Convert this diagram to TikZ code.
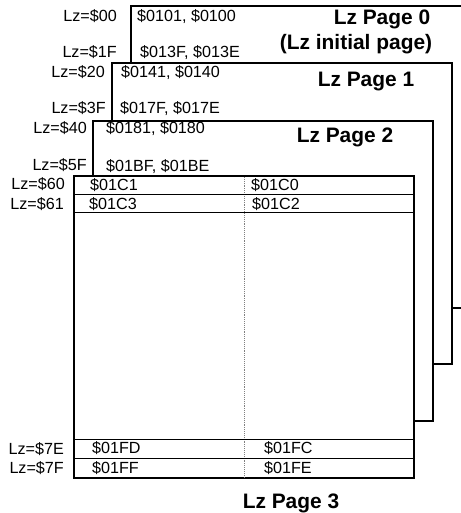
\documentclass[tikz,border=0pt]{standalone}
\usepackage{fontspec}
\setmainfont{Liberation Sans}
\begin{document}
\begin{tikzpicture}[x=1bp,y=-1bp,
  pagebox/.style={draw=black,fill=white,line width=2.8bp},
  rowline/.style={draw=black,line width=0.9bp},
  midline/.style={draw=gray,line width=0.9bp,densely dotted},
  lbl/.style={inner sep=0pt,anchor=base east,font=\fontsize{16.2}{18}\selectfont},
  val/.style={inner sep=0pt,anchor=base west,font=\fontsize{16.2}{18}\selectfont},
  ttl/.style={inner sep=0pt,anchor=base,font=\fontsize{21}{24}\selectfont\bfseries}]
\useasboundingbox (0,0) rectangle (461,513);
\clip (0,0) rectangle (461,513);
% Page 0
\draw[pagebox] (131,6) rectangle (475,308);
\node[lbl] (l00) at (117,22) {Lz=\$00};
\node[lbl] (l1F) at (117,58) {Lz=\$1F};
\node[val] (v0101) at (137,22) {\$0101, \$0100};
\node[val] (v013F) at (140,58) {\$013F, \$013E};
\node[ttl] (p0) at (382,25) {Lz Page 0};
\node[ttl] (p0b) at (356,50) {(Lz initial page)};
% Page 1
\draw[pagebox] (112,63) rectangle (452,364);
\node[lbl] (l20) at (105,78) {Lz=\$20};
\node[lbl] (l3F) at (106,114) {Lz=\$3F};
\node[val] (v0141) at (121,78) {\$0141, \$0140};
\node[val] (v017F) at (120,114) {\$017F, \$017E};
\node[ttl] (p1) at (366,87) {Lz Page 1};
% Page 2
\draw[pagebox] (93,121) rectangle (433,421);
\node[lbl] (l40) at (87,134) {Lz=\$40};
\node[lbl] (l5F) at (87,171) {Lz=\$5F};
\node[val] (v0181) at (106,134) {\$0181, \$0180};
\node[val] (v01BF) at (106,172) {\$01BF, \$01BE};
\node[ttl] (p2) at (345,143) {Lz Page 2};
% Page 3
\draw[pagebox] (74,176) rectangle (414,478);
\draw[midline] (244,177) -- (244,477);
\draw[rowline] (74,194) -- (414,194);
\draw[rowline] (74,212) -- (414,212);
\draw[rowline] (74,439) -- (414,439);
\draw[rowline] (74,458) -- (414,458);
\node[lbl] (l60) at (65,190) {Lz=\$60};
\node[lbl] (l61) at (64,209) {Lz=\$61};
\node[lbl] (l7E) at (64,454) {Lz=\$7E};
\node[lbl] (l7F) at (64,473) {Lz=\$7F};
\node[val] (v1C1) at (90,191) {\$01C1};
\node[val] (v1C0) at (251,191) {\$01C0};
\node[val] (v1C3) at (89,209) {\$01C3};
\node[val] (v1C2) at (252,209) {\$01C2};
\node[val] (v1FD) at (92,453) {\$01FD};
\node[val] (v1FC) at (264,453) {\$01FC};
\node[val] (v1FF) at (92,473) {\$01FF};
\node[val] (v1FE) at (264,473) {\$01FE};
\node[ttl] (p3) at (291,508) {Lz Page 3};
\end{tikzpicture}
\end{document}
